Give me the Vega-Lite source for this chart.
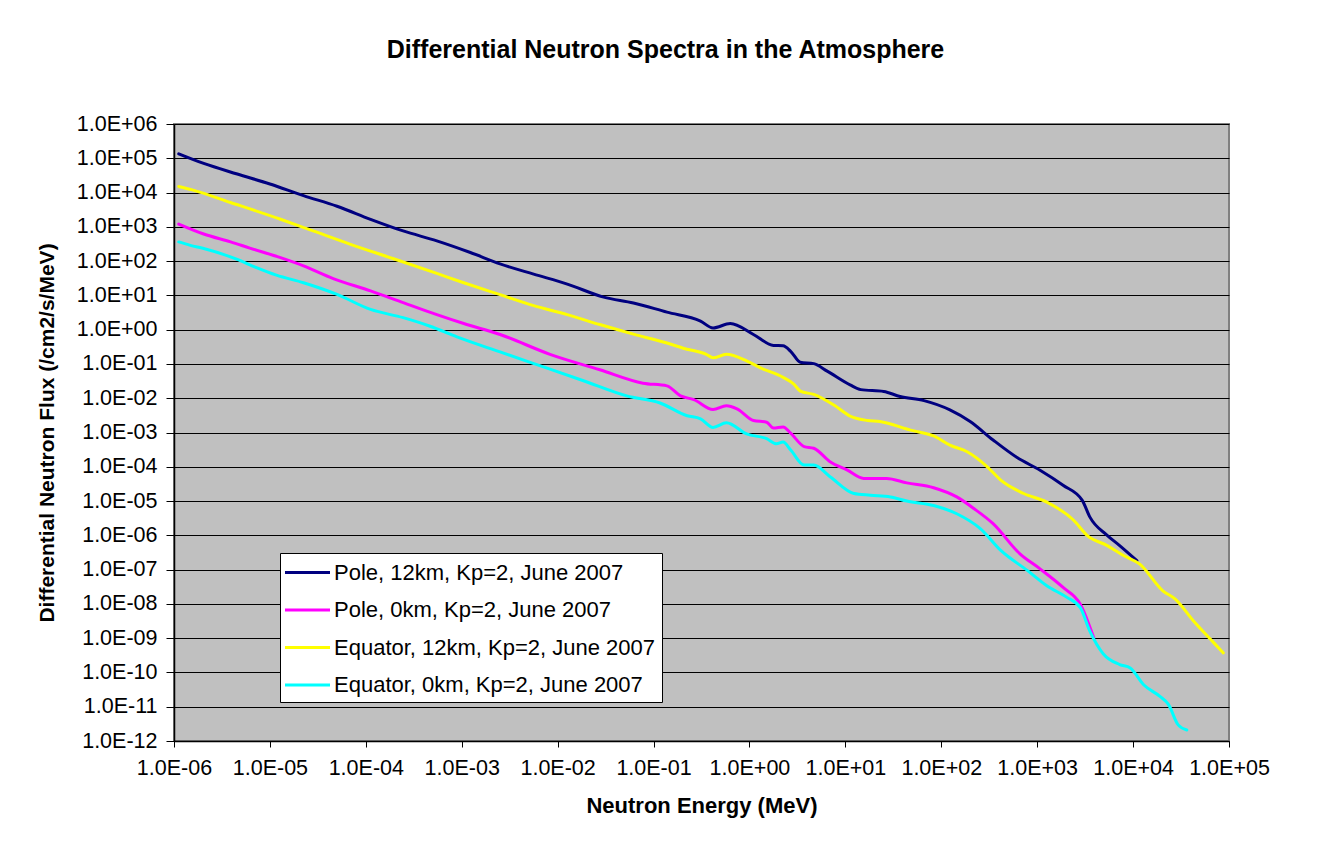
{
  "$schema": "https://vega.github.io/schema/vega-lite/v6.json",
  "width": 1055,
  "height": 617,
  "autosize": {"type": "none"},
  "padding": {"left": 174, "top": 124, "right": 100, "bottom": 104},
  "background": "white",
  "title": {
    "text": "Differential Neutron Spectra in the Atmosphere",
    "font": "Liberation Sans",
    "fontSize": 25,
    "fontWeight": "bold",
    "color": "black",
    "anchor": "middle",
    "dx": -36,
    "offset": 50
  },
  "config": {
    "view": {"fill": "#C0C0C0", "stroke": "#808080", "strokeWidth": 2},
    "axis": {"labelFont": "Liberation Sans", "titleFont": "Liberation Sans", "labelColor": "black", "titleColor": "black"}
  },
  "data": {
    "values": [
      {"s": "Pole, 12km, Kp=2, June 2007", "E": 1.12e-6, "F": 1.35e5},
      {"s": "Pole, 12km, Kp=2, June 2007", "E": 2.04e-6, "F": 7.08e4},
      {"s": "Pole, 12km, Kp=2, June 2007", "E": 4.57e-6, "F": 3.47e4},
      {"s": "Pole, 12km, Kp=2, June 2007", "E": 1.0e-5, "F": 1.78e4},
      {"s": "Pole, 12km, Kp=2, June 2007", "E": 2.24e-5, "F": 8.13e3},
      {"s": "Pole, 12km, Kp=2, June 2007", "E": 5.01e-5, "F": 3.98e3},
      {"s": "Pole, 12km, Kp=2, June 2007", "E": 1.12e-4, "F": 1.66e3},
      {"s": "Pole, 12km, Kp=2, June 2007", "E": 2.45e-4, "F": 759},
      {"s": "Pole, 12km, Kp=2, June 2007", "E": 5.5e-4, "F": 389},
      {"s": "Pole, 12km, Kp=2, June 2007", "E": 1.23e-3, "F": 178},
      {"s": "Pole, 12km, Kp=2, June 2007", "E": 2.51e-3, "F": 83.2},
      {"s": "Pole, 12km, Kp=2, June 2007", "E": 5.62e-3, "F": 41.7},
      {"s": "Pole, 12km, Kp=2, June 2007", "E": 1.26e-2, "F": 21.4},
      {"s": "Pole, 12km, Kp=2, June 2007", "E": 3.02e-2, "F": 8.91},
      {"s": "Pole, 12km, Kp=2, June 2007", "E": 6.17e-2, "F": 6.03},
      {"s": "Pole, 12km, Kp=2, June 2007", "E": 0.138, "F": 3.24},
      {"s": "Pole, 12km, Kp=2, June 2007", "E": 0.309, "F": 1.78},
      {"s": "Pole, 12km, Kp=2, June 2007", "E": 0.417, "F": 1.12},
      {"s": "Pole, 12km, Kp=2, June 2007", "E": 0.631, "F": 1.51},
      {"s": "Pole, 12km, Kp=2, June 2007", "E": 1.1, "F": 0.724},
      {"s": "Pole, 12km, Kp=2, June 2007", "E": 1.78, "F": 0.347},
      {"s": "Pole, 12km, Kp=2, June 2007", "E": 2.24, "F": 0.339},
      {"s": "Pole, 12km, Kp=2, June 2007", "E": 2.69, "F": 0.234},
      {"s": "Pole, 12km, Kp=2, June 2007", "E": 3.39, "F": 0.112},
      {"s": "Pole, 12km, Kp=2, June 2007", "E": 4.68, "F": 0.102},
      {"s": "Pole, 12km, Kp=2, June 2007", "E": 6.46, "F": 0.0617},
      {"s": "Pole, 12km, Kp=2, June 2007", "E": 11.2, "F": 0.0245},
      {"s": "Pole, 12km, Kp=2, June 2007", "E": 14.5, "F": 0.0178},
      {"s": "Pole, 12km, Kp=2, June 2007", "E": 25.1, "F": 0.0158},
      {"s": "Pole, 12km, Kp=2, June 2007", "E": 37.2, "F": 0.0112},
      {"s": "Pole, 12km, Kp=2, June 2007", "E": 66.1, "F": 0.00851},
      {"s": "Pole, 12km, Kp=2, June 2007", "E": 123, "F": 0.00457},
      {"s": "Pole, 12km, Kp=2, June 2007", "E": 200, "F": 0.00209},
      {"s": "Pole, 12km, Kp=2, June 2007", "E": 347, "F": 6.03e-4},
      {"s": "Pole, 12km, Kp=2, June 2007", "E": 617, "F": 1.86e-4},
      {"s": "Pole, 12km, Kp=2, June 2007", "E": 1072, "F": 7.94e-5},
      {"s": "Pole, 12km, Kp=2, June 2007", "E": 1862, "F": 2.88e-5},
      {"s": "Pole, 12km, Kp=2, June 2007", "E": 2951, "F": 1.05e-5},
      {"s": "Pole, 12km, Kp=2, June 2007", "E": 3548, "F": 3.39e-6},
      {"s": "Pole, 12km, Kp=2, June 2007", "E": 5370, "F": 1.0e-6},
      {"s": "Pole, 12km, Kp=2, June 2007", "E": 7244, "F": 5.01e-7},
      {"s": "Pole, 12km, Kp=2, June 2007", "E": 10960, "F": 1.82e-7},

      {"s": "Pole, 0km, Kp=2, June 2007", "E": 1.12e-6, "F": 1202},
      {"s": "Pole, 0km, Kp=2, June 2007", "E": 2.04e-6, "F": 617},
      {"s": "Pole, 0km, Kp=2, June 2007", "E": 3.89e-6, "F": 363},
      {"s": "Pole, 0km, Kp=2, June 2007", "E": 6.17e-6, "F": 240},
      {"s": "Pole, 0km, Kp=2, June 2007", "E": 1.29e-5, "F": 126},
      {"s": "Pole, 0km, Kp=2, June 2007", "E": 2.24e-5, "F": 72.4},
      {"s": "Pole, 0km, Kp=2, June 2007", "E": 4.57e-5, "F": 30.9},
      {"s": "Pole, 0km, Kp=2, June 2007", "E": 1.12e-4, "F": 13.5},
      {"s": "Pole, 0km, Kp=2, June 2007", "E": 2.45e-4, "F": 6.17},
      {"s": "Pole, 0km, Kp=2, June 2007", "E": 5.5e-4, "F": 2.75},
      {"s": "Pole, 0km, Kp=2, June 2007", "E": 1.05e-3, "F": 1.51},
      {"s": "Pole, 0km, Kp=2, June 2007", "E": 2.51e-3, "F": 0.724},
      {"s": "Pole, 0km, Kp=2, June 2007", "E": 8.32e-3, "F": 0.191},
      {"s": "Pole, 0km, Kp=2, June 2007", "E": 2.75e-2, "F": 0.0676},
      {"s": "Pole, 0km, Kp=2, June 2007", "E": 7.76e-2, "F": 0.0275},
      {"s": "Pole, 0km, Kp=2, June 2007", "E": 0.138, "F": 0.0229},
      {"s": "Pole, 0km, Kp=2, June 2007", "E": 0.191, "F": 0.0117},
      {"s": "Pole, 0km, Kp=2, June 2007", "E": 0.263, "F": 0.00912},
      {"s": "Pole, 0km, Kp=2, June 2007", "E": 0.417, "F": 0.00468},
      {"s": "Pole, 0km, Kp=2, June 2007", "E": 0.575, "F": 0.00603},
      {"s": "Pole, 0km, Kp=2, June 2007", "E": 0.741, "F": 0.0049},
      {"s": "Pole, 0km, Kp=2, June 2007", "E": 1.1, "F": 0.00224},
      {"s": "Pole, 0km, Kp=2, June 2007", "E": 1.51, "F": 0.002},
      {"s": "Pole, 0km, Kp=2, June 2007", "E": 1.78, "F": 0.00135},
      {"s": "Pole, 0km, Kp=2, June 2007", "E": 2.24, "F": 0.00145},
      {"s": "Pole, 0km, Kp=2, June 2007", "E": 2.69, "F": 9.55e-4},
      {"s": "Pole, 0km, Kp=2, June 2007", "E": 3.72, "F": 3.89e-4},
      {"s": "Pole, 0km, Kp=2, June 2007", "E": 4.68, "F": 3.47e-4},
      {"s": "Pole, 0km, Kp=2, June 2007", "E": 6.92, "F": 1.41e-4},
      {"s": "Pole, 0km, Kp=2, June 2007", "E": 10.5, "F": 7.94e-5},
      {"s": "Pole, 0km, Kp=2, June 2007", "E": 15.5, "F": 4.57e-5},
      {"s": "Pole, 0km, Kp=2, June 2007", "E": 26.9, "F": 4.57e-5},
      {"s": "Pole, 0km, Kp=2, June 2007", "E": 43.7, "F": 3.39e-5},
      {"s": "Pole, 0km, Kp=2, June 2007", "E": 83.2, "F": 2.45e-5},
      {"s": "Pole, 0km, Kp=2, June 2007", "E": 145, "F": 1.32e-5},
      {"s": "Pole, 0km, Kp=2, June 2007", "E": 219, "F": 6.03e-6},
      {"s": "Pole, 0km, Kp=2, June 2007", "E": 347, "F": 2.19e-6},
      {"s": "Pole, 0km, Kp=2, June 2007", "E": 661, "F": 2.88e-7},
      {"s": "Pole, 0km, Kp=2, June 2007", "E": 1072, "F": 1.05e-7},
      {"s": "Pole, 0km, Kp=2, June 2007", "E": 1862, "F": 3.02e-8},
      {"s": "Pole, 0km, Kp=2, June 2007", "E": 2818, "F": 9.77e-9},
      {"s": "Pole, 0km, Kp=2, June 2007", "E": 3890, "F": 1.02e-9},

      {"s": "Equator, 12km, Kp=2, June 2007", "E": 1.12e-6, "F": 1.51e4},
      {"s": "Equator, 12km, Kp=2, June 2007", "E": 1.55e-6, "F": 1.2e4},
      {"s": "Equator, 12km, Kp=2, June 2007", "E": 3.89e-6, "F": 5.13e3},
      {"s": "Equator, 12km, Kp=2, June 2007", "E": 1.29e-5, "F": 1.66e3},
      {"s": "Equator, 12km, Kp=2, June 2007", "E": 2.82e-5, "F": 759},
      {"s": "Equator, 12km, Kp=2, June 2007", "E": 6.92e-5, "F": 309},
      {"s": "Equator, 12km, Kp=2, June 2007", "E": 1.95e-4, "F": 117},
      {"s": "Equator, 12km, Kp=2, June 2007", "E": 5.5e-4, "F": 43.7},
      {"s": "Equator, 12km, Kp=2, June 2007", "E": 1.05e-3, "F": 23.4},
      {"s": "Equator, 12km, Kp=2, June 2007", "E": 2.51e-3, "F": 10.5},
      {"s": "Equator, 12km, Kp=2, June 2007", "E": 5.62e-3, "F": 5.01},
      {"s": "Equator, 12km, Kp=2, June 2007", "E": 1.26e-2, "F": 2.75},
      {"s": "Equator, 12km, Kp=2, June 2007", "E": 2.75e-2, "F": 1.41},
      {"s": "Equator, 12km, Kp=2, June 2007", "E": 6.17e-2, "F": 0.741},
      {"s": "Equator, 12km, Kp=2, June 2007", "E": 0.138, "F": 0.407},
      {"s": "Equator, 12km, Kp=2, June 2007", "E": 0.204, "F": 0.288},
      {"s": "Equator, 12km, Kp=2, June 2007", "E": 0.355, "F": 0.191},
      {"s": "Equator, 12km, Kp=2, June 2007", "E": 0.417, "F": 0.151},
      {"s": "Equator, 12km, Kp=2, June 2007", "E": 0.575, "F": 0.191},
      {"s": "Equator, 12km, Kp=2, June 2007", "E": 0.933, "F": 0.123},
      {"s": "Equator, 12km, Kp=2, June 2007", "E": 1.29, "F": 0.0776},
      {"s": "Equator, 12km, Kp=2, June 2007", "E": 2.24, "F": 0.0407},
      {"s": "Equator, 12km, Kp=2, June 2007", "E": 2.88, "F": 0.0263},
      {"s": "Equator, 12km, Kp=2, June 2007", "E": 3.39, "F": 0.0162},
      {"s": "Equator, 12km, Kp=2, June 2007", "E": 4.68, "F": 0.0129},
      {"s": "Equator, 12km, Kp=2, June 2007", "E": 7.59, "F": 0.00631},
      {"s": "Equator, 12km, Kp=2, June 2007", "E": 11.2, "F": 0.00302},
      {"s": "Equator, 12km, Kp=2, June 2007", "E": 17.0, "F": 0.00224},
      {"s": "Equator, 12km, Kp=2, June 2007", "E": 22.9, "F": 0.00209},
      {"s": "Equator, 12km, Kp=2, June 2007", "E": 47.9, "F": 0.00117},
      {"s": "Equator, 12km, Kp=2, June 2007", "E": 83.2, "F": 7.94e-4},
      {"s": "Equator, 12km, Kp=2, June 2007", "E": 123, "F": 4.27e-4},
      {"s": "Equator, 12km, Kp=2, June 2007", "E": 186, "F": 2.75e-4},
      {"s": "Equator, 12km, Kp=2, June 2007", "E": 302, "F": 1.0e-4},
      {"s": "Equator, 12km, Kp=2, June 2007", "E": 417, "F": 4.07e-5},
      {"s": "Equator, 12km, Kp=2, June 2007", "E": 724, "F": 1.66e-5},
      {"s": "Equator, 12km, Kp=2, June 2007", "E": 1259, "F": 9.33e-6},
      {"s": "Equator, 12km, Kp=2, June 2007", "E": 2399, "F": 2.75e-6},
      {"s": "Equator, 12km, Kp=2, June 2007", "E": 3311, "F": 1.0e-6},
      {"s": "Equator, 12km, Kp=2, June 2007", "E": 5370, "F": 5.01e-7},
      {"s": "Equator, 12km, Kp=2, June 2007", "E": 7943, "F": 2.57e-7},
      {"s": "Equator, 12km, Kp=2, June 2007", "E": 11750, "F": 1.45e-7},
      {"s": "Equator, 12km, Kp=2, June 2007", "E": 20420, "F": 2.4e-8},
      {"s": "Equator, 12km, Kp=2, June 2007", "E": 27540, "F": 1.38e-8},
      {"s": "Equator, 12km, Kp=2, June 2007", "E": 42660, "F": 3.16e-9},
      {"s": "Equator, 12km, Kp=2, June 2007", "E": 69180, "F": 7.41e-10},
      {"s": "Equator, 12km, Kp=2, June 2007", "E": 87100, "F": 3.72e-10},

      {"s": "Equator, 0km, Kp=2, June 2007", "E": 1.12e-6, "F": 363},
      {"s": "Equator, 0km, Kp=2, June 2007", "E": 1.48e-6, "F": 288},
      {"s": "Equator, 0km, Kp=2, June 2007", "E": 2.04e-6, "F": 234},
      {"s": "Equator, 0km, Kp=2, June 2007", "E": 4.57e-6, "F": 112},
      {"s": "Equator, 0km, Kp=2, June 2007", "E": 7.24e-6, "F": 64.6},
      {"s": "Equator, 0km, Kp=2, June 2007", "E": 1.17e-5, "F": 38.9},
      {"s": "Equator, 0km, Kp=2, June 2007", "E": 2.24e-5, "F": 23.4},
      {"s": "Equator, 0km, Kp=2, June 2007", "E": 5.01e-5, "F": 10.7},
      {"s": "Equator, 0km, Kp=2, June 2007", "E": 1.12e-4, "F": 3.89},
      {"s": "Equator, 0km, Kp=2, June 2007", "E": 2.45e-4, "F": 2.24},
      {"s": "Equator, 0km, Kp=2, June 2007", "E": 4.68e-4, "F": 1.26},
      {"s": "Equator, 0km, Kp=2, June 2007", "E": 8.91e-4, "F": 0.617},
      {"s": "Equator, 0km, Kp=2, June 2007", "E": 2.51e-3, "F": 0.224},
      {"s": "Equator, 0km, Kp=2, June 2007", "E": 8.32e-3, "F": 0.0708},
      {"s": "Equator, 0km, Kp=2, June 2007", "E": 1.86e-2, "F": 0.0324},
      {"s": "Equator, 0km, Kp=2, June 2007", "E": 5.25e-2, "F": 0.0117},
      {"s": "Equator, 0km, Kp=2, June 2007", "E": 0.117, "F": 0.00724},
      {"s": "Equator, 0km, Kp=2, June 2007", "E": 0.224, "F": 0.00309},
      {"s": "Equator, 0km, Kp=2, June 2007", "E": 0.309, "F": 0.00251},
      {"s": "Equator, 0km, Kp=2, June 2007", "E": 0.417, "F": 0.00141},
      {"s": "Equator, 0km, Kp=2, June 2007", "E": 0.575, "F": 0.00191},
      {"s": "Equator, 0km, Kp=2, June 2007", "E": 0.933, "F": 9.12e-4},
      {"s": "Equator, 0km, Kp=2, June 2007", "E": 1.51, "F": 6.61e-4},
      {"s": "Equator, 0km, Kp=2, June 2007", "E": 1.91, "F": 4.68e-4},
      {"s": "Equator, 0km, Kp=2, June 2007", "E": 2.24, "F": 5.25e-4},
      {"s": "Equator, 0km, Kp=2, June 2007", "E": 2.69, "F": 3.09e-4},
      {"s": "Equator, 0km, Kp=2, June 2007", "E": 3.72, "F": 1.12e-4},
      {"s": "Equator, 0km, Kp=2, June 2007", "E": 4.68, "F": 1.12e-4},
      {"s": "Equator, 0km, Kp=2, June 2007", "E": 6.92, "F": 5.13e-5},
      {"s": "Equator, 0km, Kp=2, June 2007", "E": 12.3, "F": 1.66e-5},
      {"s": "Equator, 0km, Kp=2, June 2007", "E": 18.2, "F": 1.48e-5},
      {"s": "Equator, 0km, Kp=2, June 2007", "E": 29.5, "F": 1.32e-5},
      {"s": "Equator, 0km, Kp=2, June 2007", "E": 43.7, "F": 1.0e-5},
      {"s": "Equator, 0km, Kp=2, June 2007", "E": 83.2, "F": 7.41e-6},
      {"s": "Equator, 0km, Kp=2, June 2007", "E": 145, "F": 4.27e-6},
      {"s": "Equator, 0km, Kp=2, June 2007", "E": 257, "F": 1.55e-6},
      {"s": "Equator, 0km, Kp=2, June 2007", "E": 417, "F": 3.63e-7},
      {"s": "Equator, 0km, Kp=2, June 2007", "E": 794, "F": 9.33e-8},
      {"s": "Equator, 0km, Kp=2, June 2007", "E": 1259, "F": 3.39e-8},
      {"s": "Equator, 0km, Kp=2, June 2007", "E": 2042, "F": 1.55e-8},
      {"s": "Equator, 0km, Kp=2, June 2007", "E": 2818, "F": 7.76e-9},
      {"s": "Equator, 0km, Kp=2, June 2007", "E": 3548, "F": 1.58e-9},
      {"s": "Equator, 0km, Kp=2, June 2007", "E": 4898, "F": 3.47e-10},
      {"s": "Equator, 0km, Kp=2, June 2007", "E": 7244, "F": 1.7e-10},
      {"s": "Equator, 0km, Kp=2, June 2007", "E": 9333, "F": 1.35e-10},
      {"s": "Equator, 0km, Kp=2, June 2007", "E": 12880, "F": 4.37e-11},
      {"s": "Equator, 0km, Kp=2, June 2007", "E": 19050, "F": 2.0e-11},
      {"s": "Equator, 0km, Kp=2, June 2007", "E": 23440, "F": 1.15e-11},
      {"s": "Equator, 0km, Kp=2, June 2007", "E": 29510, "F": 2.95e-12},
      {"s": "Equator, 0km, Kp=2, June 2007", "E": 36310, "F": 2.09e-12}
    ]
  },
  "mark": {"type": "line", "strokeWidth": 3, "interpolate": "monotone", "strokeJoin": "round", "strokeCap": "round", "clip": true},
  "encoding": {
    "x": {
      "field": "E",
      "type": "quantitative",
      "scale": {"type": "log", "domain": [1e-6, 1e5], "nice": false},
      "axis": {
        "title": "Neutron Energy (MeV)",
        "titleFontSize": 22,
        "titleFontWeight": "bold",
        "titlePadding": 17,
        "values": [1e-6, 1e-5, 1e-4, 1e-3, 1e-2, 1e-1, 1, 10, 100, 1000, 10000, 100000],
        "labelExpr": "'1.0E' + (round(log(datum.value)/LN10) < 0 ? '-' : '+') + pad(abs(round(log(datum.value)/LN10)) + '', 2, '0', 'left')",
        "labelFontSize": 21.5,
        "labelPadding": 10,
        "labelFlush": false,
        "labelOverlap": false,
        "tickSize": 6,
        "tickColor": "black",
        "domainColor": "black",
        "domainWidth": 1.5,
        "grid": false
      }
    },
    "y": {
      "field": "F",
      "type": "quantitative",
      "scale": {"type": "log", "domain": [1e-12, 1e6], "nice": false},
      "axis": {
        "title": "Differential Neutron Flux (/cm2/s/MeV)",
        "titleFontSize": 21,
        "titleFontWeight": "bold",
        "titlePadding": 19,
        "values": [1e-12, 1e-11, 1e-10, 1e-9, 1e-8, 1e-7, 1e-6, 1e-5, 1e-4, 1e-3, 1e-2, 1e-1, 1, 10, 100, 1000, 10000, 100000, 1000000],
        "labelExpr": "'1.0E' + (round(log(datum.value)/LN10) < 0 ? '-' : '+') + pad(abs(round(log(datum.value)/LN10)) + '', 2, '0', 'left')",
        "labelFontSize": 21.5,
        "labelPadding": 9,
        "labelFlush": false,
        "labelOverlap": false,
        "tickSize": 8,
        "tickColor": "black",
        "domainColor": "black",
        "domainWidth": 1.5,
        "grid": true,
        "gridColor": "black",
        "gridWidth": 1
      }
    },
    "color": {
      "field": "s",
      "type": "nominal",
      "sort": null,
      "scale": {
        "domain": ["Pole, 12km, Kp=2, June 2007", "Pole, 0km, Kp=2, June 2007", "Equator, 12km, Kp=2, June 2007", "Equator, 0km, Kp=2, June 2007"],
        "range": ["#000080", "#FF00FF", "#FFFF00", "#00FFFF"]
      },
      "legend": {
        "orient": "none",
        "legendX": 106,
        "legendY": 429,
        "title": null,
        "fillColor": "white",
        "strokeColor": "black",
        "padding": 6,
        "labelFont": "Liberation Sans",
        "labelFontSize": 22,
        "labelColor": "black",
        "labelLimit": 600,
        "labelOffset": 13,
        "symbolOffset": 8,
        "symbolType": "M-1.875,0H1.875",
        "symbolSize": 576,
        "symbolStrokeWidth": 3,
        "rowPadding": 12.5
      }
    }
  }
}
